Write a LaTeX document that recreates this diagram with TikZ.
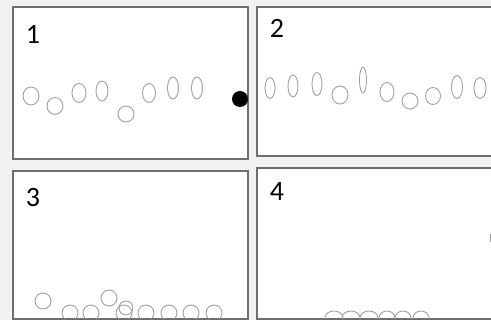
\documentclass[tikz,border=0pt]{standalone}
\usepackage{fontspec}
\setmainfont{Carlito}
\definecolor{bgc}{HTML}{F2F2F2}
\definecolor{framec}{HTML}{6E6E6E}
\definecolor{ballc}{HTML}{A0A0A0}
\begin{document}
\begin{tikzpicture}[x=1pt,y=-1pt,
  panel/.style={draw=framec,line width=1.3pt,fill=white},
  ball/.style={draw=ballc,line width=0.9pt},
  num/.style={font=\fontsize{28}{28}\selectfont,inner sep=0pt,text=black}]
\fill[bgc] (0,0) rectangle (491,320);
\useasboundingbox (0,0) rectangle (491,320);
% panels
\draw[panel] (13,7) rectangle (248,159);
\draw[panel] (257,7) rectangle (500,156);
\draw[panel] (13,171) rectangle (248,319);
\draw[panel] (257,168) rectangle (500,319);
% labels
\node[num] (n1) at (33,34) {1};
\node[num] (n2) at (277,28) {2};
\node[num] (n3) at (33,198) {3};
\node[num] (n4) at (277,192) {4};
% panel 1
\draw[ball] (31,96) ellipse [x radius=8,y radius=9];
\draw[ball] (55,106) ellipse [x radius=8,y radius=8.5];
\draw[ball] (79,93) ellipse [x radius=7,y radius=9.5];
\draw[ball] (102,91) ellipse [x radius=6,y radius=10];
\draw[ball] (126,114) ellipse [x radius=8,y radius=8];
\draw[ball] (149,93) ellipse [x radius=6.5,y radius=9.5];
\draw[ball] (173,88) ellipse [x radius=5.5,y radius=11];
\draw[ball] (197,88) ellipse [x radius=5.5,y radius=11];
\fill[black] (240,99) circle [radius=8];
\draw[framec,line width=1pt] (13.8,89) -- (13.8,97);
% panel 2
\draw[ball] (270,88) ellipse [x radius=5,y radius=10.5];
\draw[ball] (293,86) ellipse [x radius=5,y radius=11];
\draw[ball] (317,84) ellipse [x radius=5,y radius=11.5];
\draw[ball] (340,95) ellipse [x radius=8,y radius=9];
\draw[ball] (363,80) ellipse [x radius=3.5,y radius=13];
\draw[ball] (387,92) ellipse [x radius=7,y radius=9.5];
\draw[ball] (410,101) ellipse [x radius=8,y radius=8];
\draw[ball] (433,96) ellipse [x radius=7.5,y radius=8.5];
\draw[ball] (457,87) ellipse [x radius=5.5,y radius=11.5];
\draw[ball] (480,88) ellipse [x radius=6,y radius=10.5];
% panel 3
\begin{scope}
\clip (13,171) rectangle (248,318.3);
\draw[ball] (43,301) circle [radius=8];
\draw[ball] (70,313) circle [radius=8];
\draw[ball] (91,313) circle [radius=8];
\draw[ball] (109,298) circle [radius=8];
\draw[ball] (126,308) circle [radius=7];
\draw[ball] (124,313) circle [radius=8];
\draw[ball] (146,313) circle [radius=8];
\draw[ball] (169,313) circle [radius=8];
\draw[ball] (191,313) circle [radius=8];
\draw[ball] (214,313) circle [radius=8];
\end{scope}
% panel 4
\begin{scope}
\clip (257,168) rectangle (500,318.3);
\draw[ball] (334,318) ellipse [x radius=9,y radius=7];
\draw[ball] (351,318) ellipse [x radius=9,y radius=7];
\draw[ball] (369,318) ellipse [x radius=9,y radius=7];
\draw[ball] (387,318) ellipse [x radius=8,y radius=7];
\draw[ball] (403,318) ellipse [x radius=8,y radius=7];
\draw[ball] (421,318) ellipse [x radius=8,y radius=7];
\draw[ballc,line width=1pt] (490,234) -- (490,242);
\end{scope}
\end{tikzpicture}
\end{document}
